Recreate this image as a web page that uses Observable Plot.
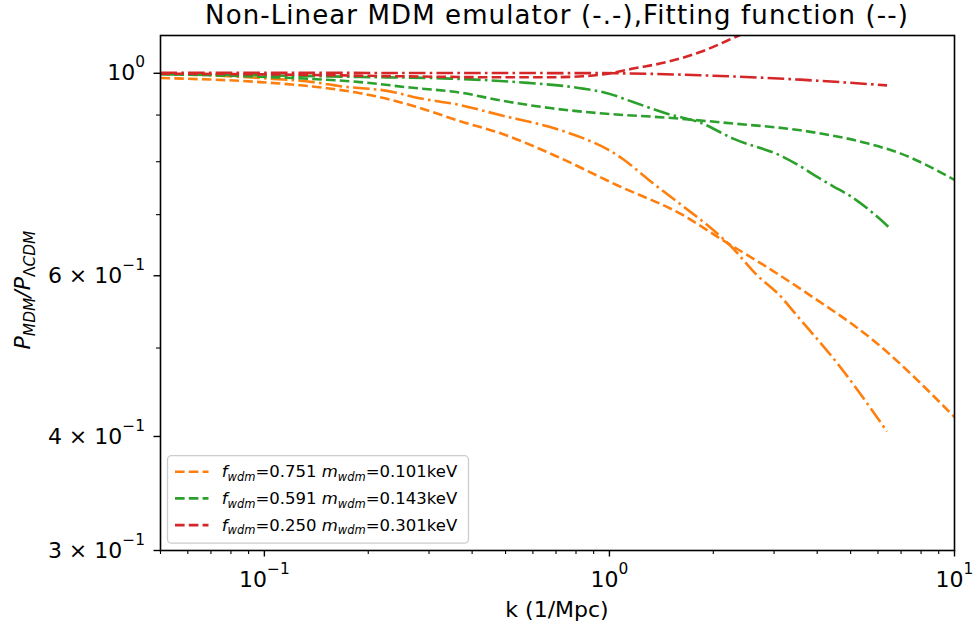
<!DOCTYPE html>
<html><head><meta charset="utf-8">
<script src="https://cdn.jsdelivr.net/npm/d3@7"></script>
<script src="https://cdn.jsdelivr.net/npm/@observablehq/plot@0.6"></script>
<style>
body{margin:0;background:#fff;font-family:"DejaVu Sans",sans-serif;}
#title{height:30px;line-height:30px;margin-left:160px;width:794px;text-align:center;font-size:26px;letter-spacing:1.1px;white-space:nowrap;color:#000;}
</style></head><body>
<div id="title">Non-Linear MDM emulator (-.-),Fitting function (--)</div>
<div id="chart"></div>
<script>
// ---- data ----
const colors = ["#ff7f0e", "#2ca02c", "#d62728"];
const fwdm = ["0.751", "0.591", "0.250"];
const mwdm = ["0.101", "0.143", "0.301"];

// Fitting function (dashed)
const orangeFitK = [0.05,0.0972,0.152,0.1895,0.236,0.296,0.369,0.482,0.673,1.053,1.635,2.136,2.865,3.741,5.81,10];
const orangeFitP = [0.988,0.978,0.963,0.951,0.934,0.911,0.886,0.860,0.817,0.754,0.699,0.656,0.613,0.574,0.510,0.420];
const greenFitK = [0.05,0.0796,0.1211,0.1895,0.2645,0.369,0.482,0.673,0.940,1.470,2.284,3.572,5.585,6.960,10];
const greenFitP = [0.998,0.9937,0.988,0.978,0.9646,0.9525,0.934,0.916,0.904,0.894,0.881,0.866,0.838,0.817,0.764];
const redFitK = [0.05,0.1269,0.2473,0.482,0.673,0.839,0.940,1.171,1.470,1.832,2.345,2.557];
const redFitP = [0.9992,0.9962,0.9925,0.990,0.990,0.9925,0.9962,1.0119,1.029,1.055,1.098,1.114];

// Emulator (dash-dot)
const orangeEmuK = [0.05,0.0696,0.0972,0.1384,0.1658,0.236,0.270,0.369,0.482,0.673,0.839,0.985,1.096,1.312,1.635,1.956,2.235,2.676,3.184,3.337,4.658,6.374];
const orangeEmuP = [0.9987,0.995,0.988,0.978,0.968,0.954,0.942,0.923,0.900,0.873,0.849,0.826,0.805,0.762,0.715,0.678,0.648,0.601,0.566,0.554,0.477,0.405];
const greenEmuK = [0.05,0.0972,0.1895,0.3453,0.540,0.839,0.985,1.171,1.470,1.832,2.284,3.184,3.572,4.0,4.451,4.993,5.81,6.512];
const greenEmuP = [0.9975,0.995,0.9907,0.9867,0.978,0.962,0.951,0.930,0.903,0.883,0.848,0.810,0.791,0.770,0.752,0.7334,0.7026,0.676];
const redEmuK = [0.05,0.2473,0.940,1.832,3.572,6.374];
const redEmuP = [1.0013,1.0008,1.0003,0.995,0.984,0.970];

// ticks
const xMajor = [0.1, 1, 10];
const xMajorLabels = ["10^−1", "10^0", "10^1"];
const xMinor = [0.05,0.06,0.07,0.08,0.09,0.2,0.3,0.4,0.5,0.6,0.7,0.8,0.9,2,3,4,5,6,7,8,9];
const yMajor = [0.3, 0.4, 0.6, 1.0];
const yMajorLabels = ["3 × 10^−1", "4 × 10^−1", "6 × 10^−1", "10^0"];
const yMinor = [0.5, 0.7, 0.8, 0.9];

// ---- build ----
const toRows = (K, P) => K.map((k, i) => ({k, p: P[i]}));
const fitSeries = [[orangeFitK, orangeFitP], [greenFitK, greenFitP], [redFitK, redFitP]];
const emuSeries = [[orangeEmuK, orangeEmuP], [greenEmuK, greenEmuP], [redEmuK, redEmuP]];
const LW = 2.6;
const dashFit = "9.6,4.2";
const dashEmu = "16.6,4.2,2.6,4.2";

const lineMarks = [];
[0,1,2].forEach(i => {
  lineMarks.push(Plot.line(toRows(...emuSeries[i]), {x: "k", y: "p", stroke: colors[i], strokeWidth: LW, strokeDasharray: dashEmu, strokeLinecap: "butt", curve: "monotone-x", clip: true}));
  lineMarks.push(Plot.line(toRows(...fitSeries[i]), {x: "k", y: "p", stroke: colors[i], strokeWidth: LW, strokeDasharray: dashFit, strokeLinecap: "butt", curve: "monotone-x", clip: true}));
});

const TITLE_H = 30;
const W = 977, H = 630 - TITLE_H, MT = 35 - TITLE_H, MB = 80, ML = 160, MR = 23;
const FW = W - ML - MR, FH = H - MT - MB;
const chart = Plot.plot({
  width: W, height: H,
  marginLeft: ML, marginRight: MR, marginTop: MT, marginBottom: MB,
  style: {fontFamily: "DejaVu Sans", fontSize: "22px", color: "black", background: "white"},
  x: {type: "log", domain: [0.05, 10], axis: null},
  y: {type: "log", domain: [0.3, 1.1], axis: null},
  marks: [
    ...lineMarks,
    // tick marks
    Plot.tickX(xMajor, {x: d => d, insetTop: FH, insetBottom: -6.5, stroke: "black", strokeWidth: 1.4}),
    Plot.tickX(xMinor, {x: d => d, insetTop: FH, insetBottom: -4, stroke: "black", strokeWidth: 1.1}),
    Plot.tickY(yMajor, {y: d => d, insetRight: FW, insetLeft: -6.5, stroke: "black", strokeWidth: 1.4}),
    Plot.tickY(yMinor, {y: d => d, insetRight: FW, insetLeft: -4, stroke: "black", strokeWidth: 1.1}),
    // tick labels
    Plot.axisX({ticks: xMajor, tickSize: 0, tickPadding: 20.5, tickFormat: d => xMajorLabels[xMajor.indexOf(d)], fontSize: 22, label: null}),
    Plot.axisY({ticks: yMajor, tickSize: 0, tickPadding: 15.5, tickFormat: d => yMajorLabels[yMajor.indexOf(d)], fontSize: 22, label: null}),
    Plot.frame({stroke: "black", strokeWidth: 1.6})
  ]
});
document.getElementById("chart").appendChild(chart);

const svg = d3.select(chart);
const off = TITLE_H; // page y -> svg y
// superscripts in tick labels
svg.selectAll("text").each(function() {
  const t = this.textContent;
  if (t.includes("^")) {
    const [base, exp] = t.split("^");
    const el = d3.select(this);
    el.text(null);
    el.append("tspan").text(base);
    el.append("tspan").attr("font-size", "15.4px").attr("dy", "-13").text(exp);
  }
});

// axis labels
svg.append("text")
  .attr("x", 557).attr("y", 617 - off)
  .attr("text-anchor", "middle").attr("font-size", 22).attr("fill", "black")
  .text("k (1/Mpc)");

const yl = svg.append("text")
  .attr("transform", `translate(30,${290 - off}) rotate(-90)`)
  .attr("text-anchor", "middle").attr("font-size", 22).attr("fill", "black");
yl.append("tspan").attr("font-style", "italic").text("P");
yl.append("tspan").attr("font-style", "italic").attr("font-size", "15.4px").attr("dy", 5).text("MDM");
yl.append("tspan").attr("font-style", "italic").attr("dy", -5).text("/P");
yl.append("tspan").attr("font-size", "15.4px").attr("dy", 5).text("Λ");
yl.append("tspan").attr("font-style", "italic").attr("font-size", "15.4px").text("CDM");

// legend
const lg = svg.append("g");
lg.append("rect").attr("x", 167.5).attr("y", 455.7 - off).attr("width", 301).attr("height", 87.5)
  .attr("rx", 4).attr("fill", "white").attr("fill-opacity", 0.8).attr("stroke", "#cccccc").attr("stroke-width", 1.3);
[0,1,2].forEach(i => {
  const yLine = 471.7 - off + i * 26.7;
  lg.append("line").attr("x1", 175).attr("x2", 208.5).attr("y1", yLine).attr("y2", yLine)
    .attr("stroke", colors[i]).attr("stroke-width", LW).attr("stroke-dasharray", dashFit);
  const tx = lg.append("text").attr("x", 221.7).attr("y", yLine + 5.6).attr("text-anchor", "start")
    .attr("font-size", 16.5).attr("fill", "black").style("white-space", "pre");
  tx.append("tspan").attr("font-style", "italic").text("f");
  tx.append("tspan").attr("font-style", "italic").attr("font-size", "11.5px").attr("dy", 3.5).text("wdm");
  tx.append("tspan").attr("dy", -3.5).text("=" + fwdm[i] + " ");
  tx.append("tspan").attr("font-style", "italic").text("m");
  tx.append("tspan").attr("font-style", "italic").attr("font-size", "11.5px").attr("dy", 3.5).text("wdm");
  tx.append("tspan").attr("dy", -3.5).text("=" + mwdm[i] + "keV");
});
</script>
</body></html>
